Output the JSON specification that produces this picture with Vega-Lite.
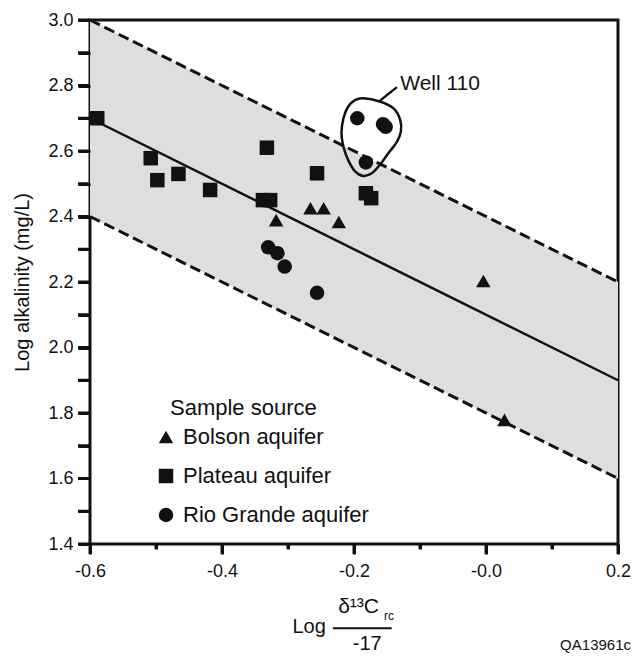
{
  "$schema": "https://vega.github.io/schema/vega-lite/v6.json",
  "autosize": {"type": "none"},
  "padding": {"left": 90, "top": 20, "right": 17, "bottom": 114},
  "width": 528,
  "height": 524,
  "background": "white",
  "config": {
    "font": "Liberation Sans",
    "view": {"stroke": "#111", "strokeWidth": 3},
    "axis": {"grid": false, "labelColor": "#111", "titleColor": "#111", "labelFont": "Liberation Sans", "titleFont": "Liberation Sans", "labelFontSize": 18, "titleFontWeight": "normal"},
    "legend": {"labelFont": "Liberation Sans", "titleFont": "Liberation Sans"}
  },
  "datasets": {
    "band": [
      {"logRatio": -0.6, "upper": 3.0, "center": 2.7, "lower": 2.4},
      {"logRatio": 0.2, "upper": 2.2, "center": 1.9, "lower": 1.6}
    ],
    "yTicks": [
      {"v": 1.4}, {"v": 1.5}, {"v": 1.6}, {"v": 1.7}, {"v": 1.8}, {"v": 1.9}, {"v": 2.0}, {"v": 2.1}, {"v": 2.2},
      {"v": 2.3}, {"v": 2.4}, {"v": 2.5}, {"v": 2.6}, {"v": 2.7}, {"v": 2.8}, {"v": 2.9}, {"v": 3.0}
    ],
    "xTicksMajor": [{"v": -0.6}, {"v": -0.4}, {"v": -0.2}, {"v": 0.0}, {"v": 0.2}],
    "xTicksMinor": [{"v": -0.5}, {"v": -0.3}, {"v": -0.1}, {"v": 0.1}],
    "samples": [
      {"source": "Plateau aquifer", "logRatio": -0.589, "logAlk": 2.70},
      {"source": "Plateau aquifer", "logRatio": -0.508, "logAlk": 2.578},
      {"source": "Plateau aquifer", "logRatio": -0.498, "logAlk": 2.511},
      {"source": "Plateau aquifer", "logRatio": -0.466, "logAlk": 2.530},
      {"source": "Plateau aquifer", "logRatio": -0.418, "logAlk": 2.481},
      {"source": "Plateau aquifer", "logRatio": -0.332, "logAlk": 2.610},
      {"source": "Plateau aquifer", "logRatio": -0.338, "logAlk": 2.450},
      {"source": "Plateau aquifer", "logRatio": -0.327, "logAlk": 2.450},
      {"source": "Plateau aquifer", "logRatio": -0.256, "logAlk": 2.532},
      {"source": "Plateau aquifer", "logRatio": -0.182, "logAlk": 2.471},
      {"source": "Plateau aquifer", "logRatio": -0.174, "logAlk": 2.456},
      {"source": "Bolson aquifer", "logRatio": -0.318, "logAlk": 2.389},
      {"source": "Bolson aquifer", "logRatio": -0.266, "logAlk": 2.425},
      {"source": "Bolson aquifer", "logRatio": -0.246, "logAlk": 2.425},
      {"source": "Bolson aquifer", "logRatio": -0.223, "logAlk": 2.383},
      {"source": "Bolson aquifer", "logRatio": -0.004, "logAlk": 2.203},
      {"source": "Bolson aquifer", "logRatio": 0.028, "logAlk": 1.779},
      {"source": "Rio Grande aquifer", "logRatio": -0.330, "logAlk": 2.306},
      {"source": "Rio Grande aquifer", "logRatio": -0.316, "logAlk": 2.288},
      {"source": "Rio Grande aquifer", "logRatio": -0.305, "logAlk": 2.247},
      {"source": "Rio Grande aquifer", "logRatio": -0.256, "logAlk": 2.167},
      {"source": "Rio Grande aquifer", "logRatio": -0.195, "logAlk": 2.700},
      {"source": "Rio Grande aquifer", "logRatio": -0.156, "logAlk": 2.682},
      {"source": "Rio Grande aquifer", "logRatio": -0.152, "logAlk": 2.674},
      {"source": "Rio Grande aquifer", "logRatio": -0.182, "logAlk": 2.565}
    ],
    "loop": [
      {"i": 0, "logRatio": -0.186, "logAlk": 2.761},
      {"i": 1, "logRatio": -0.161, "logAlk": 2.751},
      {"i": 2, "logRatio": -0.140, "logAlk": 2.730},
      {"i": 3, "logRatio": -0.130, "logAlk": 2.695},
      {"i": 4, "logRatio": -0.129, "logAlk": 2.659},
      {"i": 5, "logRatio": -0.135, "logAlk": 2.628},
      {"i": 6, "logRatio": -0.148, "logAlk": 2.593},
      {"i": 7, "logRatio": -0.161, "logAlk": 2.557},
      {"i": 8, "logRatio": -0.173, "logAlk": 2.532},
      {"i": 9, "logRatio": -0.186, "logAlk": 2.524},
      {"i": 10, "logRatio": -0.198, "logAlk": 2.537},
      {"i": 11, "logRatio": -0.209, "logAlk": 2.573},
      {"i": 12, "logRatio": -0.216, "logAlk": 2.613},
      {"i": 13, "logRatio": -0.219, "logAlk": 2.654},
      {"i": 14, "logRatio": -0.216, "logAlk": 2.700},
      {"i": 15, "logRatio": -0.209, "logAlk": 2.735},
      {"i": 16, "logRatio": -0.198, "logAlk": 2.756}
    ],
    "leader": [
      {"logRatio": -0.161, "logAlk": 2.753},
      {"logRatio": -0.135, "logAlk": 2.795}
    ],
    "notes": [
      {"kind": "well", "label": "Well 110", "logRatio": -0.130, "logAlk": 2.805},
      {"kind": "log", "label": "Log", "logRatio": -0.268, "logAlk": 1.147},
      {"kind": "num", "label": "δ¹³C", "logRatio": -0.224, "logAlk": 1.189},
      {"kind": "sub", "label": "rc", "logRatio": -0.147, "logAlk": 1.180},
      {"kind": "den", "label": "-17", "logRatio": -0.180, "logAlk": 1.095},
      {"kind": "code", "label": "QA13961c", "logRatio": 0.2197, "logAlk": 1.092}
    ],
    "fraction": [
      {"logRatio": -0.232, "logRatioEnd": -0.143, "logAlk": 1.143}
    ]
  },
  "layer": [
    {
      "data": {"name": "band"},
      "mark": {"type": "area", "color": "#dedede", "opacity": 1},
      "encoding": {
        "x": {"field": "logRatio", "type": "quantitative", "scale": {"domain": [-0.6, 0.2], "nice": false, "zero": false},
          "axis": {"title": null, "tickCount": 8,
            "labelExpr": "abs(round(datum.value*10)) % 2 == 1 ? '' : ((datum.value < 1e-6 ? '-' : '') + format(abs(datum.value), '.1f'))",
            "domain": false, "zindex": 1,
            "ticks": true, "tickColor": "#111", "tickWidth": 3,
            "tickSize": {"condition": {"test": "abs(round(datum.value*10)) % 2 == 1", "value": 5}, "value": 10},
            "labelPadding": 8, "labelFlush": false, "labelOverlap": false}},
        "y": {"field": "upper", "type": "quantitative", "scale": {"domain": [1.4, 3.0], "nice": false, "zero": false},
          "axis": {"title": "Log alkalinity (mg/L)", "titleFontSize": 20, "tickCount": 16,
            "labelExpr": "abs(round(datum.value*10)) % 2 == 1 ? '' : format(datum.value, '.1f')",
            "domain": false, "zindex": 1,
            "ticks": true, "tickColor": "#111", "tickWidth": 3,
            "tickSize": 12, "labelPadding": 5, "labelFlush": false, "labelOverlap": false,
            "titleX": -68, "titleY": 262, "titleAlign": "center", "titleBaseline": "middle", "titleAngle": -90}},
        "y2": {"field": "lower"}
      }
    },
    {
      "data": {"name": "yTicks"},
      "mark": {"type": "rule", "color": "#111", "strokeWidth": 3},
      "encoding": {"x": {"datum": -0.6}, "x2": {"datum": -0.6182}, "y": {"field": "v", "type": "quantitative"}}
    },
    {
      "data": {"name": "xTicksMajor"},
      "mark": {"type": "rule", "color": "#111", "strokeWidth": 3},
      "encoding": {"x": {"field": "v", "type": "quantitative"}, "y": {"datum": 1.4}, "y2": {"datum": 1.3695}}
    },
    {
      "data": {"name": "xTicksMinor"},
      "mark": {"type": "rule", "color": "#111", "strokeWidth": 3},
      "encoding": {"x": {"field": "v", "type": "quantitative"}, "y": {"datum": 1.4}, "y2": {"datum": 1.3847}}
    },
    {
      "data": {"name": "band"},
      "mark": {"type": "line", "color": "#111", "strokeWidth": 3, "strokeDash": [11, 5]},
      "encoding": {"x": {"field": "logRatio", "type": "quantitative"}, "y": {"field": "upper", "type": "quantitative"}}
    },
    {
      "data": {"name": "band"},
      "mark": {"type": "line", "color": "#111", "strokeWidth": 3, "strokeDash": [11, 5]},
      "encoding": {"x": {"field": "logRatio", "type": "quantitative"}, "y": {"field": "lower", "type": "quantitative"}}
    },
    {
      "data": {"name": "band"},
      "mark": {"type": "line", "color": "#111", "strokeWidth": 2.5},
      "encoding": {"x": {"field": "logRatio", "type": "quantitative"}, "y": {"field": "center", "type": "quantitative"}}
    },
    {
      "data": {"name": "samples"},
      "mark": {"type": "point", "filled": true, "color": "#111", "opacity": 1, "size": 210, "strokeWidth": 0},
      "encoding": {
        "x": {"field": "logRatio", "type": "quantitative"},
        "y": {"field": "logAlk", "type": "quantitative"},
        "shape": {"field": "source", "type": "nominal",
          "scale": {"domain": ["Bolson aquifer", "Plateau aquifer", "Rio Grande aquifer"], "range": ["triangle-up", "square", "circle"]},
          "legend": {"title": "Sample source", "orient": "none", "legendX": 80, "legendY": 378, "padding": 0,
            "titleFontSize": 22, "titleFontWeight": "normal", "titleColor": "#111", "titlePadding": 6, "titleLimit": 0,
            "labelFontSize": 22, "labelColor": "#111", "labelOffset": 6, "labelLimit": 0, "rowPadding": 17,
            "symbolSize": 210, "symbolFillColor": "#111", "symbolStrokeWidth": 0, "symbolOffset": -15}}
      }
    },
    {
      "data": {"name": "loop"},
      "mark": {"type": "line", "color": "#111", "strokeWidth": 2.5, "interpolate": "cardinal-closed"},
      "encoding": {
        "x": {"field": "logRatio", "type": "quantitative"},
        "y": {"field": "logAlk", "type": "quantitative"},
        "order": {"field": "i", "type": "quantitative"}
      }
    },
    {
      "data": {"name": "leader"},
      "mark": {"type": "line", "color": "#111", "strokeWidth": 2.5},
      "encoding": {"x": {"field": "logRatio", "type": "quantitative"}, "y": {"field": "logAlk", "type": "quantitative"}}
    },
    {
      "data": {"name": "fraction"},
      "mark": {"type": "rule", "color": "#111", "strokeWidth": 2},
      "encoding": {"x": {"field": "logRatio", "type": "quantitative"}, "x2": {"field": "logRatioEnd"}, "y": {"field": "logAlk", "type": "quantitative"}}
    },
    {
      "data": {"name": "notes"},
      "transform": [{"filter": "datum.kind == 'well'"}],
      "mark": {"type": "text", "align": "left", "baseline": "middle", "fontSize": 21, "color": "#111"},
      "encoding": {"x": {"field": "logRatio", "type": "quantitative"}, "y": {"field": "logAlk", "type": "quantitative"}, "text": {"field": "label"}}
    },
    {
      "data": {"name": "notes"},
      "transform": [{"filter": "datum.kind == 'log' || datum.kind == 'den'"}],
      "mark": {"type": "text", "align": "center", "baseline": "middle", "fontSize": 20, "color": "#111"},
      "encoding": {"x": {"field": "logRatio", "type": "quantitative"}, "y": {"field": "logAlk", "type": "quantitative"}, "text": {"field": "label"}}
    },
    {
      "data": {"name": "notes"},
      "transform": [{"filter": "datum.kind == 'num'"}],
      "mark": {"type": "text", "align": "left", "baseline": "alphabetic", "fontSize": 21, "color": "#111"},
      "encoding": {"x": {"field": "logRatio", "type": "quantitative"}, "y": {"field": "logAlk", "type": "quantitative"}, "text": {"field": "label"}}
    },
    {
      "data": {"name": "notes"},
      "transform": [{"filter": "datum.kind == 'sub'"}],
      "mark": {"type": "text", "align": "center", "baseline": "middle", "fontSize": 12, "color": "#111"},
      "encoding": {"x": {"field": "logRatio", "type": "quantitative"}, "y": {"field": "logAlk", "type": "quantitative"}, "text": {"field": "label"}}
    },
    {
      "data": {"name": "notes"},
      "transform": [{"filter": "datum.kind == 'code'"}],
      "mark": {"type": "text", "align": "right", "baseline": "middle", "fontSize": 15, "color": "#111"},
      "encoding": {"x": {"field": "logRatio", "type": "quantitative"}, "y": {"field": "logAlk", "type": "quantitative"}, "text": {"field": "label"}}
    }
  ]
}
